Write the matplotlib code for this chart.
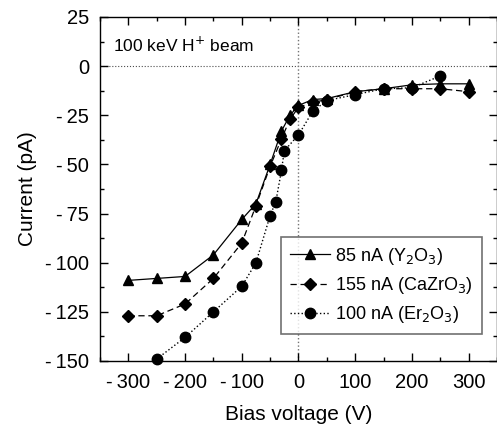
import numpy as np
import matplotlib.pyplot as plt
from matplotlib.ticker import MultipleLocator, FuncFormatter

plt.rcParams['font.family'] = ['Liberation Sans', 'DejaVu Sans']
plt.rcParams['axes.unicode_minus'] = False

# bias voltage (V)
v_y2o3 = [-300, -250, -200, -150, -100, -75, -50, -30, -15, 0, 25, 50, 100, 150, 200, 250, 300]
i_y2o3 = [-109, -108, -107, -96, -78, -70, -50, -33, -25, -20, -17, -16.5, -13, -11.5, -9.5, -9, -9]

v_cazro3 = [-300, -250, -200, -150, -100, -75, -50, -30, -15, 0, 25, 50, 100, 150, 200, 250, 300]
i_cazro3 = [-127, -127, -121, -108, -90, -71, -51, -37, -27, -21, -18.5, -17, -13, -11.5, -11.5, -11.5, -13]

v_er2o3 = [-250, -200, -150, -100, -75, -50, -40, -30, -25, 0, 25, 50, 100, 150, 200, 250]
i_er2o3 = [-149, -138, -125, -112, -100, -76, -69, -53, -43, -35, -23, -17.5, -14.5, -11.5, -11, -5]


def fmt(v, pos):
    # spaced minus sign like the original
    if v < 0:
        return '-\u2009%d' % abs(v)
    return '%d' % v


fig = plt.figure(figsize=(4.97, 4.30), dpi=100)
ax = fig.add_axes([0.2012, 0.1605, 0.7988, 0.8])

ax.axhline(0, color='0.3', lw=0.8, ls=':', zorder=1)
ax.axvline(0, color='0.45', lw=1.0, ls=':', zorder=1)

ax.plot(v_y2o3, i_y2o3, 'k-^', lw=0.9, ms=7.5, label='85 nA (Y$_2$O$_3$)', clip_on=False)
ax.plot(v_cazro3, i_cazro3, 'k--D', lw=0.9, ms=6.5, dashes=(5, 3), label='155 nA (CaZrO$_3$)', clip_on=False)
ax.plot(v_er2o3, i_er2o3, 'k:o', lw=1.0, ms=7.5, label='100 nA (Er$_2$O$_3$)', clip_on=False)

ax.set_xlim(-350, 350)
ax.set_ylim(-150, 25)
ax.set_xticks([-300, -200, -100, 0, 100, 200, 300])
ax.xaxis.set_minor_locator(MultipleLocator(50))
ax.yaxis.set_major_locator(MultipleLocator(25))
ax.yaxis.set_minor_locator(MultipleLocator(12.5))
ax.xaxis.set_major_formatter(FuncFormatter(fmt))
ax.yaxis.set_major_formatter(FuncFormatter(fmt))
ax.tick_params(which='both', direction='in', top=True, right=True, labelsize=14.5)
ax.tick_params(which='major', length=6, width=1)
ax.tick_params(which='minor', length=3, width=1)
ax.tick_params(axis='x', pad=9)
ax.tick_params(axis='y', pad=8)
for s in ax.spines.values():
    s.set_linewidth(1.0)

ax.set_xlabel('Bias voltage (V)', fontsize=15, labelpad=9)
ax.set_ylabel('Current (pA)', fontsize=15, labelpad=6)

ax.text(-327, 10.5, '100 keV H$^{+}$ beam', fontsize=12.5, va='center', ha='left')

leg = ax.legend(loc='lower right', bbox_to_anchor=(0.985, 0.052), fontsize=13,
                frameon=True, fancybox=False, edgecolor='0.3', handlelength=2.2,
                borderpad=0.5, labelspacing=0.45, handletextpad=0.3)
leg.get_frame().set_linewidth(1.2)

fig.savefig('out.png', dpi=100)
